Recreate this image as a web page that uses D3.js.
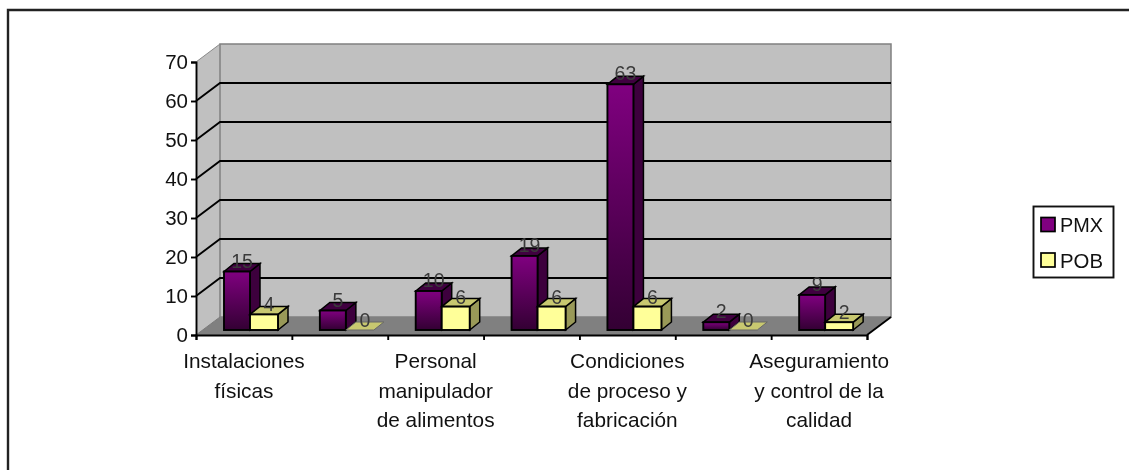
<!DOCTYPE html>
<html><head><meta charset="utf-8">
<script src="https://cdnjs.cloudflare.com/ajax/libs/d3/7.8.5/d3.min.js"></script>
<style>html,body{margin:0;background:#fff}svg{display:block;filter:blur(.7px)}text{font-family:"Liberation Sans",Arial,sans-serif;fill:#111}</style>
</head><body><svg id="c" width="1129" height="470"></svg>
<script>
const categories=["Instalaciones físicas","Equipos y utensilios","Personal manipulador de alimentos","Materias primas","Condiciones de proceso y fabricación","Almacenamiento","Aseguramiento y control de la calidad"];
const axisLabels=[["Instalaciones","físicas"],[],["Personal","manipulador","de alimentos"],[],["Condiciones","de proceso y","fabricación"],[],["Aseguramiento","y control de la","calidad"]];
const pmx=[15,5,10,19,63,2,9];
const pob=[4,0,6,6,6,0,2];
const yTicks=[0,10,20,30,40,50,60,70];
const seriesNames=["PMX","POB"];

const svg=d3.select("#c");
const X0=196,X1=867,Y0=335,Y70=62,DX=24,DY=18;
const x=d3.scaleBand().domain(categories).range([X0,X1]);
const y=d3.scaleLinear().domain([0,70]).range([Y0,Y70]);
const defs=svg.append("defs");
const g=defs.append("linearGradient").attr("id","pg").attr("x1",0).attr("y1",0).attr("x2",0).attr("y2",1);
g.append("stop").attr("offset",0).attr("stop-color","#800080");
g.append("stop").attr("offset",1).attr("stop-color","#330033");

svg.append("path").attr("d","M8,475V10H1135").attr("fill","none").attr("stroke","#222").attr("stroke-width",2.4);

const poly=(pts,fill,stroke,sw)=>svg.append("polygon").attr("points",pts.map(p=>p.join(",")).join(" ")).attr("fill",fill).attr("stroke",stroke||"none").attr("stroke-width",sw||0);
poly([[X0,Y0],[X0+DX,Y0-DY],[X0+DX,Y70-DY],[X0,Y70]],"#c0c0c0");
poly([[X0+DX,Y0-DY],[X1+DX,Y0-DY],[X1+DX,Y70-DY],[X0+DX,Y70-DY]],"#c0c0c0","#808080",1.5);
poly([[X0,Y0],[X0+DX,Y0-DY],[X1+DX,Y0-DY],[X1,Y0]],"#808080");
yTicks.slice(1,-1).forEach(v=>{
  svg.append("path").attr("d",`M${X0},${y(v)}L${X0+DX},${y(v)-DY}L${X1+DX},${y(v)-DY}`).attr("fill","none").attr("stroke","#000").attr("stroke-width",1.9);
});
svg.append("path").attr("d",`M${X0},${Y0}L${X0+DX},${Y0-DY}`).attr("stroke","#777").attr("stroke-width",1);
svg.append("path").attr("d",`M${X0},${Y70}L${X0+DX},${Y70-DY}`).attr("stroke","#888").attr("stroke-width",1);
svg.append("path").attr("d",`M${X1},${Y0}L${X1+DX},${Y0-DY}`).attr("stroke","#000").attr("stroke-width",1.9);

const ay=d3.axisLeft(y).tickValues(yTicks).tickSize(5).tickPadding(3);
const ga=svg.append("g").attr("transform",`translate(${X0},0)`).call(ay);
ga.selectAll("line,path").attr("stroke","#000").attr("stroke-width",1.9);
ga.selectAll("text").attr("font-family",null).attr("font-size",20.5);
const ax=d3.axisBottom(d3.scaleLinear().domain([0,7]).range([X0,X1])).ticks(7).tickSize(5).tickFormat("");
const gx=svg.append("g").attr("transform",`translate(0,${Y0})`).call(ax);
gx.selectAll("line,path").attr("stroke","#000").attr("stroke-width",1.9);

const baseY=330,PW=26,YW=28,bx=10,by=8,unit=(Y0-Y70)/70;
function bar(px,w,v,front,side,top){
  const t=baseY-v*unit;
  if(v>0){
    poly([[px+w,t],[px+w+bx,t-by],[px+w+bx,baseY-by],[px+w,baseY]],side,"#000",1.5);
    poly([[px,t],[px+bx,t-by],[px+w+bx,t-by],[px+w,t]],top,"#000",1.5);
    svg.append("rect").attr("x",px).attr("y",t).attr("width",w).attr("height",v*unit).attr("fill",front).attr("stroke","#000").attr("stroke-width",1.9);
  } else {
    poly([[px,baseY],[px+bx,baseY-by],[px+w+bx,baseY-by],[px+w,baseY]],top,"#666",1);
  }
}
categories.forEach((c,i)=>{
  const px=x(c)+28, yx=px+PW;
  bar(px,PW,pmx[i],"url(#pg)","#3d003d","#400040");
  bar(yx,YW,pob[i],"#ffff99","#999958","#c8c870");
  svg.append("text").attr("x",px+18).attr("y",baseY-pmx[i]*unit-4).attr("text-anchor","middle").attr("font-size",19.5).style("fill","#3a3a3a").text(pmx[i]);
  svg.append("text").attr("x",yx+19).attr("y",baseY-pob[i]*unit-3).attr("text-anchor","middle").attr("font-size",19.5).style("fill","#3a3a3a").text(pob[i]);
  axisLabels[i].forEach((l,k)=>{
    svg.append("text").attr("x",x(c)+x.bandwidth()/2).attr("y",368+k*29.5).attr("text-anchor","middle").attr("font-size",20.8).text(l);
  });
});

svg.append("rect").attr("x",1033.5).attr("y",206.5).attr("width",80).attr("height",71).attr("fill","#fff").attr("stroke","#111").attr("stroke-width",1.9);
const colours=["#800080","#ffff99"];
seriesNames.forEach((s,i)=>{
  const ly=224.5+i*35.5;
  svg.append("rect").attr("x",1041).attr("y",ly-7).attr("width",14).attr("height",14).attr("fill",colours[i]).attr("stroke","#000").attr("stroke-width",1.7);
  svg.append("text").attr("x",1060).attr("y",ly+7.5).attr("font-size",19.5).attr("textLength",43).attr("lengthAdjust","spacingAndGlyphs").text(s);
});
</script></body></html>
